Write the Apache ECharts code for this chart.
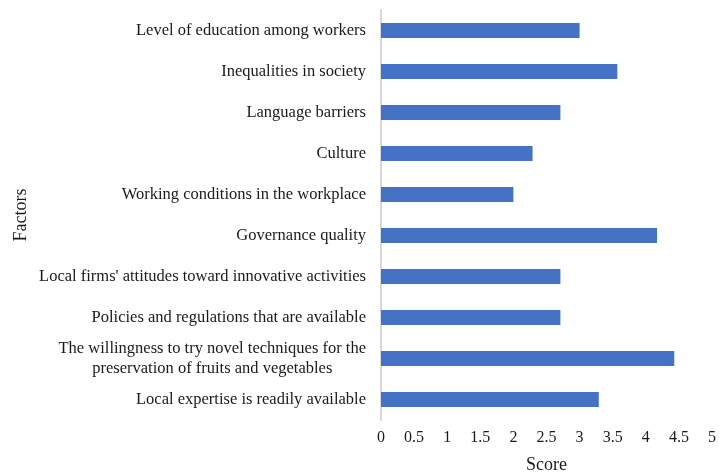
<!DOCTYPE html>
<html>
<head>
<meta charset="utf-8">
<script src="https://cdn.jsdelivr.net/npm/echarts@6/dist/echarts.min.js"></script>
<style>
  html, body { margin: 0; padding: 0; background: #fff; }
  #chart { width: 719px; height: 474px; }
</style>
</head>
<body>
<div id="chart"></div>
<script>
// factor names, top to bottom
const factors = [
  'Level of education among workers',
  'Inequalities in society',
  'Language barriers',
  'Culture',
  'Working conditions in the workplace',
  'Governance quality',
  "Local firms' attitudes toward innovative activities",
  'Policies and regulations that are available',
  'The willingness to try novel techniques for the\npreservation of fruits and vegetables',
  'Local expertise is readily available'
]
// scores
const scores = [3.0, 3.57, 2.71, 2.29, 2.0, 4.17, 2.71, 2.71, 4.43, 3.29]

const chart = echarts.init(document.getElementById('chart'))
const serif = '"Liberation Serif", "DejaVu Serif", serif'

chart.setOption({
  animation: false,
  grid: { left: 381, right: 7, top: 10, bottom: 54, outerBoundsMode: 'none' },
  xAxis: {
    type: 'value',
    min: 0,
    max: 5,
    interval: 0.5,
    name: 'Score',
    nameLocation: 'middle',
    nameGap: 36,
    nameTextStyle: { fontFamily: serif, fontSize: 18, color: '#1a1a1a' },
    axisLine: { show: false },
    axisTick: { show: false },
    splitLine: { show: false },
    axisLabel: {
      fontFamily: serif, fontSize: 16, color: '#1a1a1a', margin: 10
    }
  },
  yAxis: {
    type: 'category',
    inverse: true,
    data: factors,
    name: 'Factors',
    nameLocation: 'middle',
    nameGap: 351,
    nameRotate: 90,
    nameTextStyle: { fontFamily: serif, fontSize: 18, color: '#1a1a1a' },
    axisLine: { show: true, lineStyle: { color: '#d9d9d9', width: 2 } },
    axisTick: { show: false },
    axisLabel: {
      margin: 15,
      fontFamily: serif, fontSize: 16.5, color: '#1a1a1a',
      formatter: function (v) {
        // wrapped label: centre each line
        if (v.indexOf('\n') >= 0) {
          return v.split('\n').map(s => '{c|' + s + '}').join('\n')
        }
        return v
      },
      rich: {
        c: { align: 'center', fontFamily: serif, fontSize: 16.5, color: '#1a1a1a', lineHeight: 20 }
      }
    }
  },
  series: [{
    type: 'bar',
    data: scores,
    barWidth: 15,
    itemStyle: { color: '#4472c4' }
  }]
})
</script>
</body>
</html>
